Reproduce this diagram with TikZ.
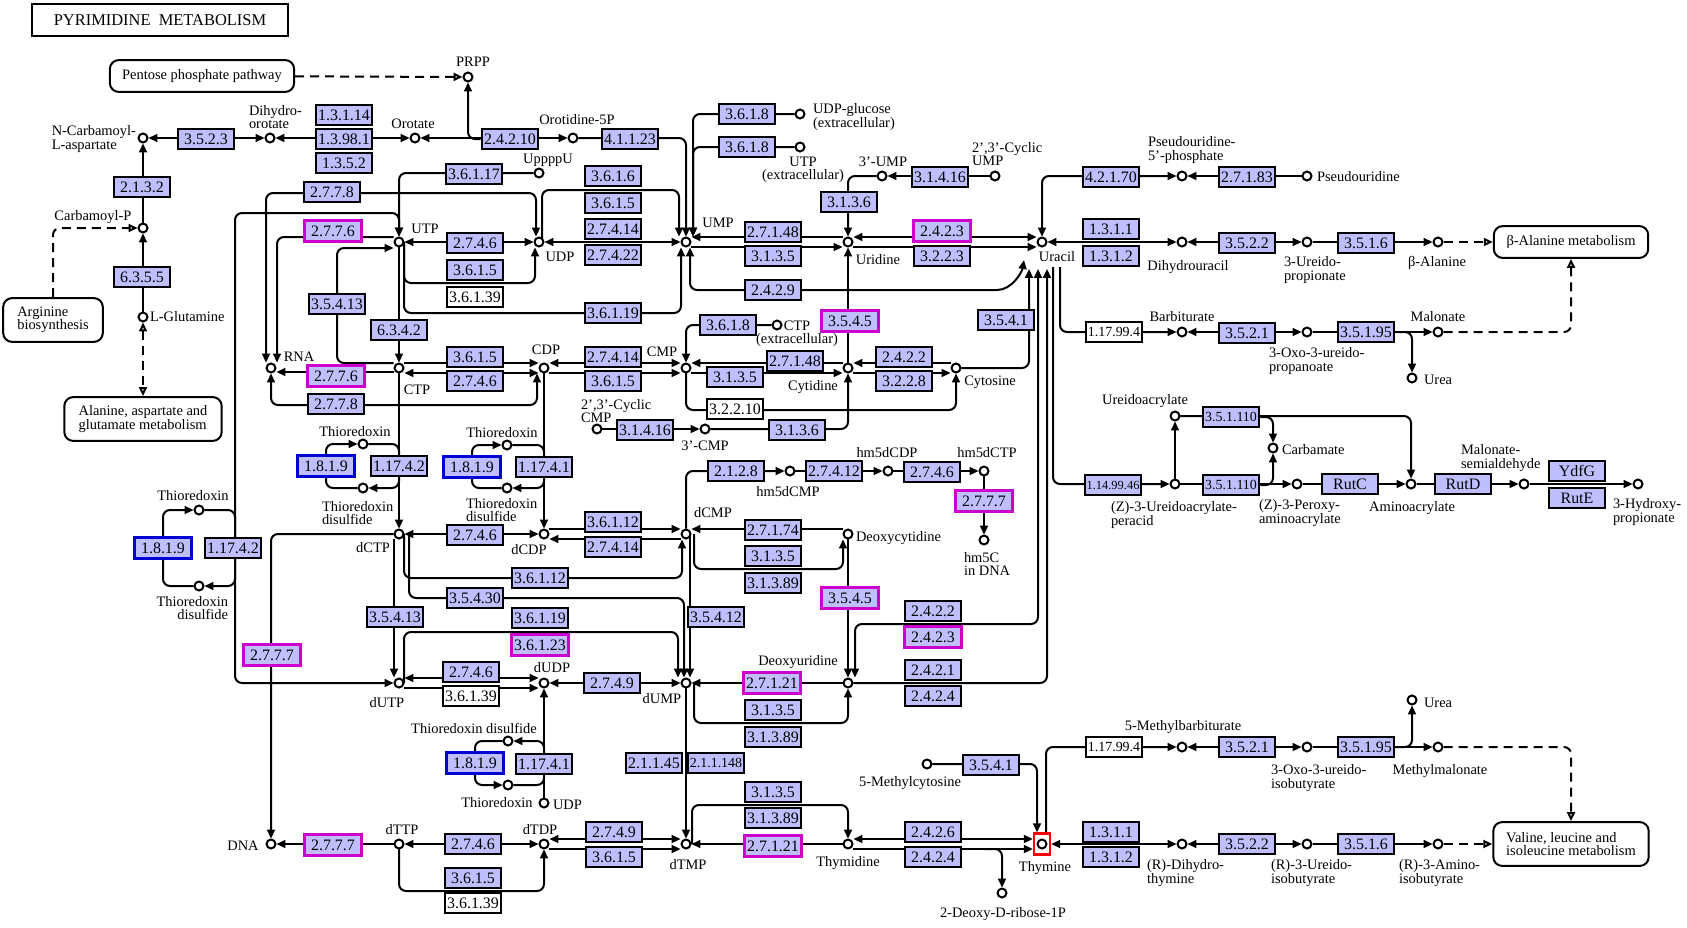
\documentclass[tikz,border=0pt]{standalone}
\usepackage{fontspec}
\setmainfont{Liberation Serif}
\usetikzlibrary{arrows.meta,positioning}
\pgfdeclarelayer{bg}
\pgfsetlayers{bg,main}
\definecolor{ecfill}{RGB}{191,191,255}
\definecolor{hlmag}{RGB}{204,0,204}
\definecolor{hlblue}{RGB}{0,0,210}

\begin{document}
\begin{tikzpicture}
    [
    x=1bp, y=-1bp, line width=2bp,
    >={Triangle[length=9pt,width=8pt]},
    cpd/.style={circle,draw,fill=white,inner sep=0pt,minimum size=9pt},
    ec/.style={draw,fill=ecfill,inner sep=0pt,minimum width=57pt,minimum height=20pt,font=\fontsize{16}{16}\selectfont},
    ecm/.style={ec,draw=hlmag,line width=3bp,minimum height=21pt},
    ecb/.style={ec,draw=hlblue,line width=3bp,minimum height=21pt},
    ecw/.style={ec,fill=white},
    sm/.style={font=\fontsize{14}{14}\selectfont},
    lbl/.style={inner sep=0pt,font=\fontsize{14.5}{13.5}\selectfont},
    pathway/.style={draw,rounded corners=9pt,inner sep=4pt,font=\fontsize{14.5}{13.5}\selectfont},
    rx/.style={rounded corners=7pt},
    maplink/.style={dash pattern=on 9bp off 6bp},
    opentip/.style={-{Triangle[open,length=9pt,width=8pt]}},
    bothopen/.style={{Triangle[open,length=9pt,width=8pt]}-{Triangle[open,length=9pt,width=8pt]}},
    ]
    \useasboundingbox (0,0) rectangle (1687,927);

    \node[draw,minimum width=256pt,minimum height=32pt,font=\fontsize{16.5}{16}\selectfont] (title) at (160,20) {PYRIMIDINE\ \ METABOLISM};

    % pathway maps
    \node[pathway,minimum width=185pt,minimum height=32pt] (pentose) at (202,76) {Pentose phosphate pathway};
    \node[pathway,align=left,minimum width=100pt,minimum height=44pt] (argbio) at (53,320) {Arginine\\biosynthesis};
    \node[pathway,align=left,minimum width=158pt,minimum height=44pt] (alaasp) at (143,419) {Alanine, aspartate and\\glutamate metabolism};
    \node[pathway,minimum width=155pt,minimum height=32pt] (balamet) at (1571,242) {β-Alanine metabolism};
    \node[pathway,align=left,minimum width=156pt,minimum height=44pt] (valmet) at (1571,844) {Valine, leucine and\\isoleucine metabolism};

    % compounds
    \node[cpd] (prpp) at (468,77) {};
    \node[cpd] (ncarb) at (143,138) {};
    \node[cpd] (dho) at (270,138) {};
    \node[cpd] (orot) at (415,138) {};
    \node[cpd] (oro5p) at (573,138) {};
    \node[cpd] (udpglc) at (800,114) {};
    \node[cpd] (utpex) at (800,147) {};
    \node[cpd] (ump3) at (882,176) {};
    \node[cpd] (cump) at (995,176) {};
    \node[cpd] (pseu5p) at (1182,176) {};
    \node[cpd] (pseu) at (1307,176) {};
    \node[cpd] (carbp) at (143,228) {};
    \node[cpd] (upppu) at (539,173) {};
    \node[cpd] (utp) at (399,242) {};
    \node[cpd] (udp) at (539,242) {};
    \node[cpd] (ump) at (686,242) {};
    \node[cpd] (urd) at (848,242) {};
    \node[cpd] (ura) at (1042,242) {};
    \node[cpd] (dhu) at (1182,242) {};
    \node[cpd] (ureidoprop) at (1307,242) {};
    \node[cpd] (bala) at (1438,242) {};
    \node[cpd] (lglu) at (143,317) {};
    \node[cpd] (rna) at (271,368) {};
    \node[cpd] (ctp) at (399,368) {};
    \node[cpd] (cdp) at (544,368) {};
    \node[cpd] (cmp) at (686,368) {};
    \node[cpd] (ctpex) at (777,325) {};
    \node[cpd] (cyd) at (848,368) {};
    \node[cpd] (cyt) at (956,368) {};
    \node[cpd] (ccmp) at (597,429) {};
    \node[cpd] (cmp3) at (705,429) {};
    \node[cpd] (bar) at (1182,332) {};
    \node[cpd] (oxoprop) at (1307,332) {};
    \node[cpd] (malon) at (1438,332) {};
    \node[cpd] (urea1) at (1412,378) {};
    \node[cpd] (trx1) at (199,510) {};
    \node[cpd] (trxss1) at (199,586) {};
    \node[cpd] (trx2) at (363,444) {};
    \node[cpd] (trxss2) at (363,488) {};
    \node[cpd] (trx3) at (507,445) {};
    \node[cpd] (trxss3) at (507,488) {};
    \node[cpd] (dctp) at (399,534) {};
    \node[cpd] (dcdp) at (544,534) {};
    \node[cpd] (dcmp) at (686,534) {};
    \node[cpd] (hmdcmp) at (790,471) {};
    \node[cpd] (hmdcdp) at (888,471) {};
    \node[cpd] (hmdctp) at (984,471) {};
    \node[cpd] (hmc) at (984,540) {};
    \node[cpd] (dcyd) at (848,534) {};
    \node[cpd] (ureac) at (1175,416) {};
    \node[cpd] (peracid) at (1175,484) {};
    \node[cpd] (carbam) at (1273,448) {};
    \node[cpd] (peroxy) at (1297,484) {};
    \node[cpd] (aminoac) at (1411,484) {};
    \node[cpd] (malsa) at (1524,484) {};
    \node[cpd] (hpro) at (1638,484) {};
    \node[cpd] (dutp) at (399,683) {};
    \node[cpd] (dudp) at (544,683) {};
    \node[cpd] (dump) at (686,683) {};
    \node[cpd] (dudr) at (848,683) {};
    \node[cpd] (trxss4) at (508,741) {};
    \node[cpd] (trx4) at (508,785) {};
    \node[cpd] (udp2) at (544,803) {};
    \node[cpd] (dna) at (271,844) {};
    \node[cpd] (dttp) at (399,844) {};
    \node[cpd] (dtdp) at (544,844) {};
    \node[cpd] (dtmp) at (686,844) {};
    \node[cpd] (thd) at (848,844) {};
    \node[draw=red,line width=2.5bp,minimum width=16pt,minimum height=21pt,inner sep=0pt] (thyr) at (1042,844) {};
    \node[cpd] (thy) at (1042,844) {};
    \node[cpd] (mcyt) at (927,764) {};
    \node[cpd] (dribose) at (1002,893) {};
    \node[cpd] (mbarb) at (1182,747) {};
    \node[cpd] (oxoiso) at (1307,747) {};
    \node[cpd] (mmal) at (1438,747) {};
    \node[cpd] (urea2) at (1412,700) {};
    \node[cpd] (dht) at (1182,844) {};
    \node[cpd] (ureiso) at (1307,844) {};
    \node[cpd] (aminoiso) at (1438,844) {};

    % compound names
    \node[lbl] (t-prpp) at (473,62) {PRPP};
    \node[lbl,anchor=east,align=left] (t-ncarb) at (137,139) {N-Carbamoyl-\\L-aspartate};
    \node[lbl,anchor=west,align=left] (t-dho) at (248,117) {Dihydro-\\orotate};
    \node[lbl] (t-orot) at (413,124) {Orotate};
    \node[lbl] (t-oro5p) at (577,120) {Orotidine-5P};
    \node[lbl,anchor=west,align=left] (t-udpglc) at (812,117) {UDP-glucose\\(extracellular)};
    \node[lbl,align=center] (t-utpex) at (803,170) {UTP\\(extracellular)};
    \node[lbl] (t-ump3) at (883,162) {3'-UMP};
    \node[lbl,anchor=west,align=left] (t-cump) at (971,154) {2',3'-Cyclic\\UMP};
    \node[lbl,anchor=west,align=left] (t-pseu5p) at (1147,150) {Pseudouridine-\\5'-phosphate};
    \node[lbl,anchor=west] (t-pseu) at (1316,177) {Pseudouridine};
    \node[lbl] (t-carbp) at (93,217) {Carbamoyl-P};
    \node[lbl] (t-upppu) at (548,160) {UppppU};
    \node[lbl] (t-utp) at (425,229) {UTP};
    \node[lbl] (t-udp) at (560,257) {UDP};
    \node[lbl] (t-ump) at (718,223) {UMP};
    \node[lbl] (t-urd) at (878,260) {Uridine};
    \node[lbl] (t-ura) at (1057,257) {Uracil};
    \node[lbl] (t-dhu) at (1188,267) {Dihydrouracil};
    \node[lbl,anchor=west,align=left] (t-ureidoprop) at (1283,270) {3-Ureido-\\propionate};
    \node[lbl] (t-bala) at (1437,263) {β-Alanine};
    \node[lbl,anchor=west] (t-lglu) at (149,317) {L-Glutamine};
    \node[lbl] (t-rna) at (299,357) {RNA};
    \node[lbl] (t-ctp) at (417,390) {CTP};
    \node[lbl] (t-cdp) at (546,350) {CDP};
    \node[lbl] (t-cmp) at (662,352) {CMP};
    \node[lbl,align=center] (t-ctpex) at (797,334) {CTP\\(extracellular)};
    \node[lbl] (t-cyd) at (813,387) {Cytidine};
    \node[lbl] (t-cyt) at (990,382) {Cytosine};
    \node[lbl,anchor=west,align=left] (t-ccmp) at (580,411) {2',3'-Cyclic\\CMP};
    \node[lbl] (t-cmp3) at (705,446) {3'-CMP};
    \node[lbl] (t-bar) at (1182,317) {Barbiturate};
    \node[lbl,anchor=west,align=left] (t-oxoprop) at (1268,361) {3-Oxo-3-ureido-\\propanoate};
    \node[lbl] (t-malon) at (1438,317) {Malonate};
    \node[lbl,anchor=west] (t-urea1) at (1423,380) {Urea};
    \node[lbl] (t-trx1) at (193,496) {Thioredoxin};
    \node[lbl,anchor=east,align=right] (t-trxss1) at (229,608) {Thioredoxin\\disulfide};
    \node[lbl] (t-trx2) at (355,432) {Thioredoxin};
    \node[lbl,anchor=west,align=left] (t-trxss2) at (321,513) {Thioredoxin\\disulfide};
    \node[lbl] (t-trx3) at (502,433) {Thioredoxin};
    \node[lbl,anchor=west,align=left] (t-trxss3) at (465,510) {Thioredoxin\\disulfide};
    \node[lbl] (t-dctp) at (373,548) {dCTP};
    \node[lbl] (t-dcdp) at (529,550) {dCDP};
    \node[lbl] (t-dcmp) at (713,513) {dCMP};
    \node[lbl] (t-hmdcmp) at (788,492) {hm5dCMP};
    \node[lbl] (t-hmdcdp) at (887,453) {hm5dCDP};
    \node[lbl] (t-hmdctp) at (987,453) {hm5dCTP};
    \node[lbl,anchor=west,align=left] (t-hmc) at (963,564) {hm5C\\in DNA};
    \node[lbl,anchor=west] (t-dcyd) at (855,538) {Deoxycytidine};
    \node[lbl] (t-ureac) at (1145,401) {Ureidoacrylate};
    \node[lbl,anchor=west,align=left] (t-peracid) at (1110,515) {(Z)-3-Ureidoacrylate-\\peracid};
    \node[lbl,anchor=west] (t-carbam) at (1281,450) {Carbamate};
    \node[lbl,anchor=west,align=left] (t-peroxy) at (1258,513) {(Z)-3-Peroxy-\\aminoacrylate};
    \node[lbl] (t-aminoac) at (1412,508) {Aminoacrylate};
    \node[lbl,anchor=west,align=left] (t-malsa) at (1460,458) {Malonate-\\semialdehyde};
    \node[lbl,anchor=west,align=left] (t-hpro) at (1612,512) {3-Hydroxy-\\propionate};
    \node[lbl] (t-dutp) at (387,703) {dUTP};
    \node[lbl] (t-dudp) at (552,668) {dUDP};
    \node[lbl] (t-dump) at (662,699) {dUMP};
    \node[lbl] (t-dudr) at (798,662) {Deoxyuridine};
    \node[lbl] (t-trxss4) at (474,728) {Thioredoxin disulfide};
    \node[lbl] (t-trx4) at (497,803) {Thioredoxin};
    \node[lbl,anchor=west] (t-udp2) at (552,805) {UDP};
    \node[lbl] (t-dna) at (243,846) {DNA};
    \node[lbl] (t-dttp) at (402,830) {dTTP};
    \node[lbl] (t-dtdp) at (540,830) {dTDP};
    \node[lbl] (t-dtmp) at (688,865) {dTMP};
    \node[lbl] (t-thd) at (848,863) {Thymidine};
    \node[lbl] (t-thy) at (1045,868) {Thymine};
    \node[lbl] (t-mcyt) at (910,783) {5-Methylcytosine};
    \node[lbl] (t-dribose) at (1003,914) {2-Deoxy-D-ribose-1P};
    \node[lbl] (t-mbarb) at (1183,727) {5-Methylbarbiturate};
    \node[lbl,anchor=west,align=left] (t-oxoiso) at (1270,778) {3-Oxo-3-ureido-\\isobutyrate};
    \node[lbl] (t-mmal) at (1440,771) {Methylmalonate};
    \node[lbl,anchor=west] (t-urea2) at (1423,703) {Urea};
    \node[lbl,anchor=west,align=left] (t-dht) at (1146,873) {(R)-Dihydro-\\thymine};
    \node[lbl,anchor=west,align=left] (t-ureiso) at (1270,873) {(R)-3-Ureido-\\isobutyrate};
    \node[lbl,anchor=west,align=left] (t-aminoiso) at (1398,873) {(R)-3-Amino-\\isobutyrate};

    % enzymes
    \node[ec] (e3523) at (206,139) {3.5.2.3};
    \node[ec] (e13114) at (344,115) {1.3.1.14};
    \node[ec] (e13981) at (344,139) {1.3.98.1};
    \node[ec] (e1352) at (344,163) {1.3.5.2};
    \node[ec] (e24210) at (510,139) {2.4.2.10};
    \node[ec] (e41123) at (630,139) {4.1.1.23};
    \node[ec] (e2132) at (142,187) {2.1.3.2};
    \node[ec] (e6355) at (142,277) {6.3.5.5};
    \node[ec] (e3618a) at (747,114) {3.6.1.8};
    \node[ec] (e3618b) at (747,147) {3.6.1.8};
    \node[ec] (e36117) at (474,174) {3.6.1.17};
    \node[ec] (e3616) at (613,176) {3.6.1.6};
    \node[ec] (e3615a) at (613,203) {3.6.1.5};
    \node[ec] (e27414a) at (613,229) {2.7.4.14};
    \node[ec] (e27422) at (613,255) {2.7.4.22};
    \node[ec] (e2778a) at (332,192) {2.7.7.8};
    \node[ecm] (e2776a) at (333,231) {2.7.7.6};
    \node[ec] (e2746a) at (475,243) {2.7.4.6};
    \node[ec] (e3615b) at (475,270) {3.6.1.5};
    \node[ecw] (e36139a) at (475,297) {3.6.1.39};
    \node[ec] (e27148a) at (773,232) {2.7.1.48};
    \node[ec] (e3135a) at (773,256) {3.1.3.5};
    \node[ec] (e2429) at (773,290) {2.4.2.9};
    \node[ec] (e36119a) at (613,313) {3.6.1.19};
    \node[ec] (e3136a) at (849,202) {3.1.3.6};
    \node[ec] (e31416a) at (940,177) {3.1.4.16};
    \node[ecm] (e2423a) at (942,231) {2.4.2.3};
    \node[ec] (e3223) at (942,256) {3.2.2.3};
    \node[ec] (e42170) at (1111,177) {4.2.1.70};
    \node[ec] (e27183) at (1247,177) {2.7.1.83};
    \node[ec] (e1311a) at (1111,229) {1.3.1.1};
    \node[ec] (e1312a) at (1111,256) {1.3.1.2};
    \node[ec] (e3522a) at (1247,243) {3.5.2.2};
    \node[ec] (e3516a) at (1366,243) {3.5.1.6};
    \node[ec] (e35413a) at (337,304) {3.5.4.13};
    \node[ec] (e6342) at (399,330) {6.3.4.2};
    \node[ecm] (e2776b) at (336,376) {2.7.7.6};
    \node[ec] (e2778b) at (336,404) {2.7.7.8};
    \node[ec] (e3615c) at (475,357) {3.6.1.5};
    \node[ec] (e2746b) at (475,381) {2.7.4.6};
    \node[ec] (e27414b) at (613,357) {2.7.4.14};
    \node[ec] (e3615d) at (613,381) {3.6.1.5};
    \node[ec] (e3618c) at (728,325) {3.6.1.8};
    \node[ec] (e27148b) at (795,361) {2.7.1.48};
    \node[ec] (e3135b) at (735,377) {3.1.3.5};
    \node[ecw] (e32210) at (735,409) {3.2.2.10};
    \node[ec] (e31416b) at (645,430) {3.1.4.16};
    \node[ec] (e3136b) at (797,430) {3.1.3.6};
    \node[ecm] (e3545a) at (850,321) {3.5.4.5};
    \node[ec] (e3541a) at (1006,320) {3.5.4.1};
    \node[ec] (e2422a) at (904,357) {2.4.2.2};
    \node[ec] (e3228) at (904,381) {3.2.2.8};
    \node[ecw,sm] (e11799a) at (1114,332) {1.17.99.4};
    \node[ec] (e3521a) at (1247,333) {3.5.2.1};
    \node[ec] (e35195a) at (1366,332) {3.5.1.95};
    \node[ecb] (e1819a) at (163,548) {1.8.1.9};
    \node[ec] (e11742a) at (233,548) {1.17.4.2};
    \node[ecb] (e1819b) at (326,466) {1.8.1.9};
    \node[ec] (e11742b) at (399,466) {1.17.4.2};
    \node[ecb] (e1819c) at (472,467) {1.8.1.9};
    \node[ec] (e11741a) at (544,467) {1.17.4.1};
    \node[ec] (e2746c) at (475,535) {2.7.4.6};
    \node[ec] (e36112a) at (613,522) {3.6.1.12};
    \node[ec] (e27414c) at (613,547) {2.7.4.14};
    \node[ec] (e2128) at (736,471) {2.1.2.8};
    \node[ec] (e27412) at (834,471) {2.7.4.12};
    \node[ec] (e2746d) at (932,472) {2.7.4.6};
    \node[ecm] (e2777a) at (984,501) {2.7.7.7};
    \node[ec] (e27174) at (773,530) {2.7.1.74};
    \node[ec] (e3135c) at (773,556) {3.1.3.5};
    \node[ec] (e31389a) at (773,583) {3.1.3.89};
    \node[ec] (e36112b) at (540,578) {3.6.1.12};
    \node[ec] (e35430) at (475,598) {3.5.4.30};
    \node[ec] (e36119b) at (540,618) {3.6.1.19};
    \node[ecm] (e36123) at (540,645) {3.6.1.23};
    \node[ec] (e35412) at (716,617) {3.5.4.12};
    \node[ec] (e35413b) at (395,617) {3.5.4.13};
    \node[ecm] (e2777b) at (272,655) {2.7.7.7};
    \node[ecm] (e3545b) at (850,598) {3.5.4.5};
    \node[ec] (e2422b) at (933,611) {2.4.2.2};
    \node[ecm] (e2423b) at (933,637) {2.4.2.3};
    \node[ec] (e2421) at (933,670) {2.4.2.1};
    \node[ec] (e2424a) at (933,696) {2.4.2.4};
    \node[ec,font=\fontsize{12.5}{12.5}\selectfont] (e114) at (1113,485) {1.14.99.46};
    \node[ec,sm] (e351110a) at (1231,417) {3.5.1.110};
    \node[ec,sm] (e351110b) at (1231,485) {3.5.1.110};
    \node[ec] (erutc) at (1350,484) {RutC};
    \node[ec] (erutd) at (1463,484) {RutD};
    \node[ec] (eydfg) at (1577,471) {YdfG};
    \node[ec] (erute) at (1577,498) {RutE};
    \node[ec] (e2746e) at (471,672) {2.7.4.6};
    \node[ecw] (e36139b) at (471,696) {3.6.1.39};
    \node[ec] (e2749a) at (612,683) {2.7.4.9};
    \node[ecm] (e27121a) at (772,683) {2.7.1.21};
    \node[ec] (e3135d) at (773,710) {3.1.3.5};
    \node[ec] (e31389b) at (773,737) {3.1.3.89};
    \node[ecb] (e1819d) at (475,763) {1.8.1.9};
    \node[ec] (e11741b) at (544,764) {1.17.4.1};
    \node[ec] (e21145) at (654,763) {2.1.1.45};
    \node[ec,sm] (e211148) at (716,763) {2.1.1.148};
    \node[ecm] (e2777c) at (333,845) {2.7.7.7};
    \node[ec] (e2746f) at (473,844) {2.7.4.6};
    \node[ec] (e3615e) at (473,878) {3.6.1.5};
    \node[ecw] (e36139c) at (473,903) {3.6.1.39};
    \node[ec] (e2749b) at (614,832) {2.7.4.9};
    \node[ec] (e3615f) at (614,857) {3.6.1.5};
    \node[ec] (e3135e) at (773,792) {3.1.3.5};
    \node[ec] (e31389c) at (773,818) {3.1.3.89};
    \node[ecm] (e27121b) at (773,846) {2.7.1.21};
    \node[ec] (e3541b) at (991,765) {3.5.4.1};
    \node[ec] (e2426) at (933,832) {2.4.2.6};
    \node[ec] (e2424b) at (933,857) {2.4.2.4};
    \node[ecw,sm] (e11799b) at (1114,747) {1.17.99.4};
    \node[ec] (e3521b) at (1247,747) {3.5.2.1};
    \node[ec] (e35195b) at (1366,747) {3.5.1.95};
    \node[ec] (e1311b) at (1111,832) {1.3.1.1};
    \node[ec] (e1312b) at (1111,857) {1.3.1.2};
    \node[ec] (e3522b) at (1247,844) {3.5.2.2};
    \node[ec] (e3516b) at (1366,844) {3.5.1.6};

    \begin{pgfonlayer}{bg}
    \begin{scope}[line width=2bp]
    % orotate branch
    \draw [maplink,opentip] (pentose) -- (prpp);
    \draw [<->] (ncarb) -- (dho);
    \draw [<->] (dho) -- (orot);
    \draw [<->] (orot) -- (oro5p);
    \draw [->,rx] (e24210.west) -| (prpp);
    \draw [->] (carbp) -- (ncarb);
    \draw [->] (lglu) -- (carbp);
    \draw [maplink,opentip,rx] (argbio) |- (carbp);
    \draw [maplink,bothopen] (lglu) -- (alaasp);

    % uridine nucleotides
    \draw [->,rx] (oro5p) -| (ump);
    \draw [->,rx] (udpglc) -| ([xshift=7bp]ump.north);
    \draw [->,rx] (utpex) -| ([xshift=7bp]ump.north);
    \draw [->,rx] ([xshift=3bp]udp.center) |- (613,190) -| ([xshift=-7bp]ump.north);
    \draw [<->] (udp) -- (ump);
    \draw [<->] (utp) -- (udp);
    \draw [->,rx] ([xshift=5bp]utp.center) |- (475,283) -| ([xshift=-4bp]udp.south);
    \draw [->,rx] ([xshift=5bp]utp.center) |- (613,313) -| ([xshift=-5bp]ump.south);
    \draw [<->,rx] ([xshift=4bp]ump.south) |- (990,290) .. controls (1012,290) and (1022,272) .. ([xshift=-18bp,yshift=-18bp]ura.center);
    \draw [->] ([yshift=5bp]urd.west) -- ([yshift=5bp]ump.east);
    \draw [->] ([yshift=-5bp]ump.east) -- ([yshift=-5bp]urd.west);
    \draw [->,rx] (ump3) -| (urd);
    \draw [->] (cump) -- (ump3);
    \draw [<->] ([yshift=5bp]urd.east) -- ([yshift=5bp]ura.west);
    \draw [->] ([yshift=-5bp]urd.east) -- ([yshift=-5bp]ura.west);
    \draw [->] (cyd) -- (urd);
    \draw [<->,rx] (pseu5p) -| (ura);
    \draw [->] (pseu) -- (pseu5p);
    \draw [<->] (ura) -- (dhu);
    \draw [<->] (ureidoprop) -- (dhu);
    \draw [->] (ureidoprop) -- (bala);
    \draw [maplink,opentip] (bala) -- (balamet);
    \draw [maplink,opentip,rx] (malon) -| (balamet);

    % uracil degradation
    \draw [->,rx] (cyt) -| ([xshift=-13bp,yshift=-27bp]ura.center);
    \draw [<->,rx] ([xshift=-4bp,yshift=-27bp]ura.center) |- (933,624) -| ([xshift=7bp]dudr.north);
    \draw [->,rx] (dudr) -| ([xshift=5bp,yshift=-27bp]ura.center);
    \draw [->,rx] ([xshift=18bp,yshift=-25bp]ura.center) |- (bar);
    \draw [->,rx] ([xshift=11bp,yshift=-25bp]ura.center) |- (peracid);
    \draw [<->] (bar) -- (oxoprop);
    \draw [->] (oxoprop) -- (malon);
    \draw [->,rx] (e35195a.east) -| (urea1);
    \draw [->] (peracid) -- (ureac);
    \draw [->,rx] (ureac) -| (aminoac);
    \draw [->,rx] (e351110a.east) -| (carbam);
    \draw [->] (peracid) -- (peroxy);
    \draw [->,rx] (e351110b.east) -| (carbam);
    \draw [->] (peroxy) -- (aminoac);
    \draw [->] (aminoac) -- (malsa);
    \draw [->] (malsa) -- (hpro);

    % UTP, CTP, RNA
    \draw [->,rx] ([yshift=5bp]utp.west) -| ([xshift=6bp]rna.north);
    \draw [<->,rx] ([xshift=-5bp]rna.north) |- (332,193) -| ([xshift=-3bp]udp.north);
    \draw [->,rx] (upppu) -| (utp);
    \draw [<->,rx] (utp.north) |- (235,213) |- (dutp);
    \draw [->] (utp) -- (ctp);
    \draw [->,rx] ([yshift=5bp]ctp.west) -| (337,248) -- ([yshift=-6bp]utp.west);
    \draw [->] ([yshift=-4bp]ctp.west) -- ([yshift=-4bp]rna.east);
    \draw [<->,rx] (rna.south) |- (336,405) -| ([xshift=-7bp]cdp.south);
    \draw [->] ([yshift=5bp]ctp.east) -- ([yshift=5bp]cdp.west);
    \draw [<->] ([yshift=-5bp]ctp.east) -- ([yshift=-5bp]cdp.west);
    \draw [<->] ([yshift=5bp]cdp.east) -- ([yshift=5bp]cmp.west);
    \draw [->] ([yshift=-5bp]cdp.east) -- ([yshift=-5bp]cmp.west);
    \draw [->] ([yshift=5bp]cyd.west) -- ([yshift=5bp]cmp.east);
    \draw [->] ([yshift=-5bp]cmp.east) -- ([yshift=-5bp]cyd.west);
    \draw [->,rx] (ctpex) -| (cmp);
    \draw [->,rx] (cmp.center) |- (735,410) -| (cyt.south);
    \draw [->] (ccmp) -- (cmp3);
    \draw [->,rx] (cmp3) -| (cyd);
    \draw [->] ([yshift=5bp]cyt.west) -- ([yshift=5bp]cyd.east);
    \draw [->] ([yshift=-5bp]cyd.east) -- ([yshift=-5bp]cyt.west);

    % thioredoxin cycles
    \draw [->,rx] (trxss1) -| (163,548) |- (trx1);
    \draw [->,rx] (trx1) -| (235,548) |- (trxss1);
    \draw [->] (ctp) -- (dctp);
    \draw [->,rx] (trxss2) -| (326,466) |- (trx2);
    \draw [->,rx] (trx2) -| (399,466) |- (trxss2);
    \draw [->] (cdp) -- (dcdp);
    \draw [->,rx] (trxss3) -| (472,467) |- (trx3);
    \draw [->,rx] (trx3) -| (544,467) |- (trxss3);
    \draw [->] (udp2) -- (dudp);
    \draw [->,rx] (trx4) -| (544,763) |- (trxss4);
    \draw [->,rx] (trxss4) -| (475,763) |- (trx4);

    % deoxycytidine nucleotides
    \draw [<->] (dctp) -- (dcdp);
    \draw [->] ([yshift=5bp]dcdp.east) -- ([yshift=5bp]dcmp.west);
    \draw [->] ([yshift=-5bp]dcmp.west) -- ([yshift=-5bp]dcdp.east);
    \draw [->] ([yshift=5bp]dcyd.west) -- ([yshift=5bp]dcmp.east);
    \draw [->,rx] ([xshift=8bp]dcmp.center) |- (773,569) -| ([xshift=-5bp]dcyd.south);
    \draw [->,rx] ([xshift=5bp]dctp.center) |- (540,578) -| ([xshift=-4bp]dcmp.south);
    \draw [->,rx] ([xshift=10bp]dctp.center) |- (475,598) -| ([xshift=-2bp]dump.north);
    \draw [->] ([xshift=-5bp]dctp.south) -- ([xshift=-5bp]dutp.north);
    \draw [->,rx] (dctp) -| (dna);
    \draw [->,rx] (dcmp) |- (hmdcmp);
    \draw [->] (hmdcmp) -- (hmdcdp);
    \draw [->] (hmdcdp) -- (hmdctp);
    \draw [->] (hmdctp) -- (hmc);
    \draw [->] (dcyd) -- (dudr);
    \draw [->] ([xshift=4bp]dcmp.center) -- ([xshift=4bp]dump.north);

    % deoxyuridine and thymidine nucleotides
    \draw [<->] ([yshift=5bp]dutp.east) -- ([yshift=5bp]dudp.west);
    \draw [->] ([yshift=-5bp]dutp.east) -- ([yshift=-5bp]dudp.west);
    \draw [->,rx] ([xshift=5bp]dutp.center) |- (540,632) -| ([xshift=-8bp]dump.north);
    \draw [<->] (dudp) -- (dump);
    \draw [->] (dudr) -- (dump);
    \draw [->,rx] ([xshift=8bp]dump.center) |- (773,723) -| (dudr.south);
    \draw [->] (dump) -- (dtmp);
    \draw [->] (dttp) -- (dna);
    \draw [<->] (dttp) -- (dtdp);
    \draw [->,rx] (dttp.center) |- (473,891) -| (dtdp.south);
    \draw [<->] ([yshift=5bp]dtdp.east) -- ([yshift=5bp]dtmp.west);
    \draw [->] ([yshift=-5bp]dtdp.east) -- ([yshift=-5bp]dtmp.west);
    \draw [->] (thd) -- (dtmp);
    \draw [->,rx] ([xshift=6bp]dtmp.center) |- (773,805) -| (thd.north);
    \draw [<->] ([yshift=5bp]thd.east) -- ([yshift=5bp]thyr.west);
    \draw [->] ([yshift=-5bp]thd.east) -- ([yshift=-5bp]thyr.west);
    \coordinate (brd) at (985,849);
    \draw [->,rx] (brd) -| (dribose);

    % thymine degradation
    \draw [->,rx] (mcyt) -| ([xshift=-5bp]thyr.north);
    \draw [->,rx] ([xshift=4bp]thyr.north) |- (mbarb);
    \draw [<->] (mbarb) -- (oxoiso);
    \draw [->] (oxoiso) -- (mmal);
    \draw [->,rx] (e35195b.east) -| (urea2);
    \draw [maplink,opentip,rx] (mmal) -| (valmet);
    \draw [<->] (thyr) -- (dht);
    \draw [<->] (ureiso) -- (dht);
    \draw [->] (ureiso) -- (aminoiso);
    \draw [maplink,opentip] (aminoiso) -- (valmet);
    \end{scope}
    \end{pgfonlayer}
\end{tikzpicture}
\end{document}
